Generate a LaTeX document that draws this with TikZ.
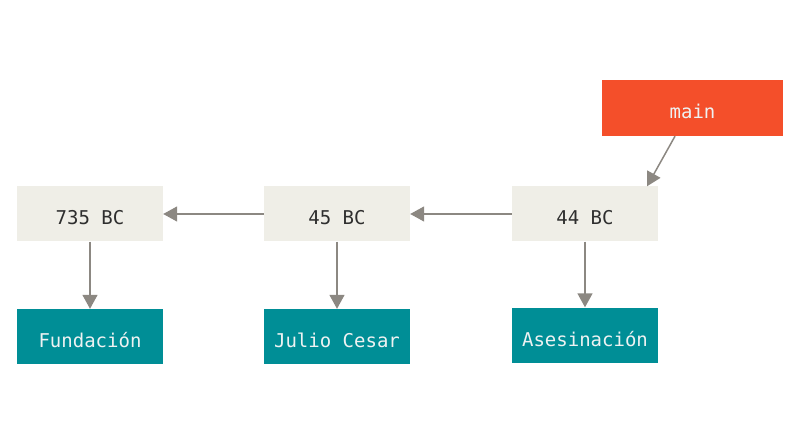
\documentclass[tikz,border=0pt]{standalone}
\usepackage{fontspec}
\setmonofont{DejaVu Sans Mono}
\usetikzlibrary{arrows.meta,calc}
\definecolor{commitbg}{HTML}{EFEEE7}
\definecolor{branchred}{HTML}{F44F2A}
\definecolor{tagteal}{HTML}{008E96}
\definecolor{arrowgray}{HTML}{8C8882}
\definecolor{darktext}{HTML}{2E2E2E}
\definecolor{lighttext}{HTML}{EEF2F2}
\tikzset{
  box/.style={minimum width=146pt,minimum height=55pt,inner sep=0pt,text height=22pt,text depth=0pt,font=\fontsize{19}{21}\selectfont\ttfamily},
  commit/.style={box,fill=commitbg,text=darktext},
  branch/.style={box,fill=branchred,text=lighttext,minimum width=181pt,minimum height=56pt},
  tagbox/.style={box,fill=tagteal,text=lighttext},
  conn/.style={draw=arrowgray,line width=1.5pt,-{Triangle[length=14pt,width=15pt]},arrowgray}
}
\begin{document}
\begin{tikzpicture}[x=1pt,y=-1pt]
\useasboundingbox (0,0) rectangle (800,430);
\node[commit] (c735) at (90,214) {735 BC};
\node[commit] (c45) at (337,214) {45 BC};
\node[commit] (c44) at (585,214) {44 BC};
\node[branch] (main) at (692.5,108) {main};
\node[tagbox] (t1) at (90,336.5) {Fundación};
\node[tagbox] (t2) at (337,336.5) {Julio Cesar};
\node[tagbox] (t3) at (585,335) {Asesinación};
\draw[conn] (c45.west) -- (c735.east);
\draw[conn] (c44.west) -- (c45.east);
\draw[conn] (c735.south) -- (t1.north);
\draw[conn] (c45.south) -- (t2.north);
\draw[conn] (c44.south) -- (t3.north);
\draw[conn] ($(main.south)+(-17.5,0)$) -- ($(c44.north)+(62,0)$);
\end{tikzpicture}
\end{document}
